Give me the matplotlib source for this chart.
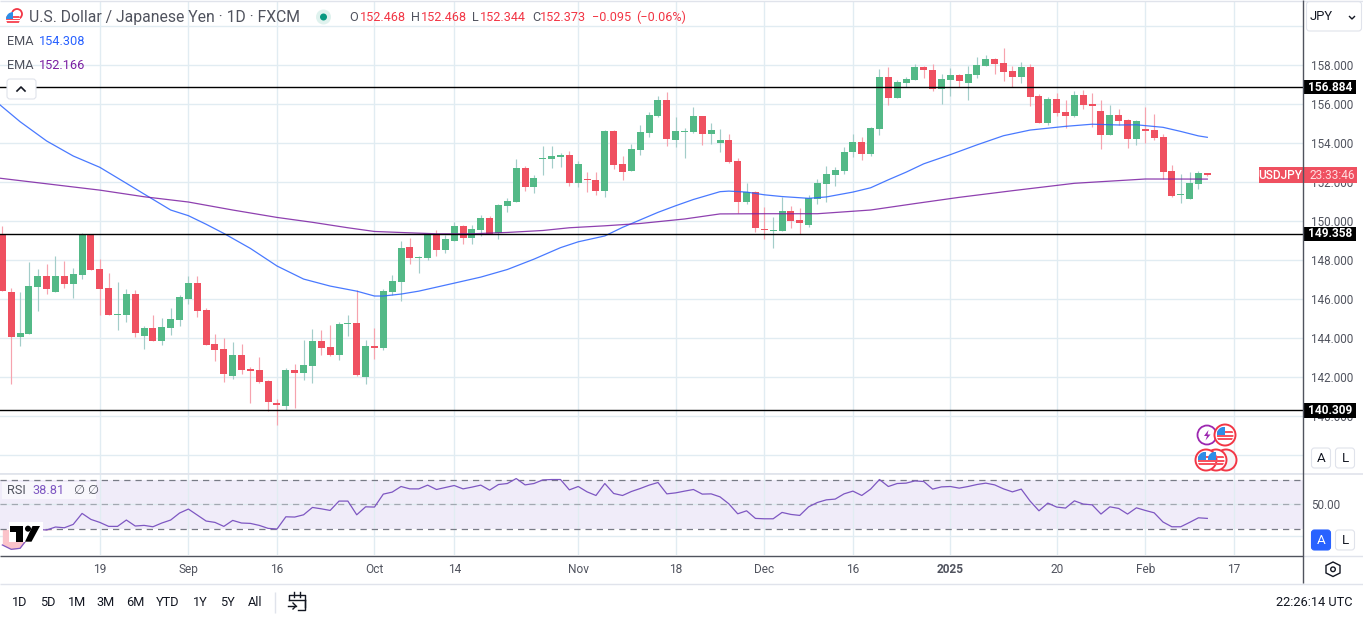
import matplotlib
matplotlib.use("Agg")
import matplotlib.pyplot as plt
import numpy as np
from matplotlib.patches import Circle, FancyBboxPatch, Polygon, Rectangle

plt.rcParams["font.family"] = ["Roboto", "DejaVu Sans"]

opens = [
    149.33, 146.37, 144.07, 144.22, 146.63, 147.20, 146.37, 147.20, 146.79, 147.25,
    149.30, 147.55, 146.58, 145.21, 145.20, 146.27, 144.12, 144.53, 143.86, 144.53,
    144.94, 146.02, 146.84, 145.45, 143.71, 143.45, 142.07, 143.14, 142.43, 142.37,
    141.81, 140.68, 140.53, 142.37, 142.22, 142.58, 143.86, 143.55, 143.14, 144.75,
    144.79, 142.02, 143.61, 143.50, 146.37, 146.88, 148.68, 148.11, 148.11, 149.29,
    148.52, 148.99, 149.76, 149.14, 149.55, 150.17, 149.40, 150.78, 150.99, 152.73,
    151.76, 153.19, 153.19, 153.29, 153.40, 151.96, 152.17, 152.11, 151.55, 154.63,
    152.94, 152.58, 153.65, 154.52, 155.40, 156.22, 154.17, 154.58, 154.58, 155.40,
    154.48, 154.02, 154.17, 153.09, 150.99, 151.50, 149.61, 149.51, 149.51, 150.53,
    150.07, 149.81, 151.15, 151.92, 152.38, 152.58, 153.56, 154.07, 153.45, 154.74,
    157.40, 156.33, 157.09, 157.25, 157.92, 157.76, 156.79, 157.25, 157.51, 157.09,
    157.51, 157.97, 158.33, 158.12, 157.71, 157.40, 157.92, 156.43, 155.04, 156.27,
    155.61, 155.40, 156.48, 156.02, 155.66, 154.43, 155.45, 155.20, 154.22, 154.74,
    154.68, 154.33, 152.58, 151.35, 151.15, 151.92, 152.468,
]
highs = [
    149.76, 146.56, 146.37, 147.91, 147.55, 147.81, 148.22, 147.96, 147.61, 149.40,
    149.33, 148.07, 147.35, 146.89, 146.53, 146.48, 144.63, 145.20, 145.04, 145.55,
    146.22, 147.20, 147.20, 145.55, 144.22, 144.02, 143.81, 143.71, 142.53, 143.04,
    141.86, 140.89, 142.48, 142.68, 143.91, 144.48, 144.43, 144.68, 144.84, 145.20,
    146.48, 143.91, 144.53, 146.53, 147.24, 148.99, 149.14, 148.22, 149.35, 149.55,
    149.29, 149.96, 149.81, 149.81, 150.32, 150.27, 150.88, 151.19, 153.19, 152.83,
    152.37, 153.86, 153.86, 153.50, 153.60, 153.09, 152.53, 152.53, 154.68, 154.68,
    153.35, 153.96, 154.94, 155.60, 156.42, 156.63, 155.35, 154.78, 155.86, 155.40,
    155.04, 154.74, 154.48, 153.25, 151.97, 151.56, 150.74, 150.22, 151.25, 150.79,
    150.68, 151.35, 152.17, 152.84, 152.79, 153.81, 154.48, 154.33, 154.84, 157.81,
    157.92, 157.25, 157.40, 158.07, 157.97, 158.07, 157.56, 157.86, 157.56, 157.97,
    158.43, 158.53, 158.38, 158.89, 157.97, 158.17, 158.07, 156.53, 156.38, 156.58,
    156.22, 156.68, 156.74, 156.58, 156.22, 155.97, 155.76, 155.25, 155.20, 155.86,
    155.50, 154.48, 152.89, 152.43, 152.53, 152.58, 152.468,
]
lows = [
    146.43, 141.66, 143.61, 144.22, 145.40, 146.27, 146.37, 146.58, 146.07, 147.04,
    147.50, 145.20, 145.20, 144.43, 144.84, 144.07, 143.45, 143.86, 143.66, 144.17,
    144.63, 145.76, 145.09, 143.66, 142.84, 141.76, 141.91, 142.17, 140.68, 141.71,
    140.27, 139.55, 140.32, 140.43, 141.86, 141.71, 143.14, 143.09, 142.89, 144.12,
    142.07, 141.66, 142.94, 143.40, 146.22, 145.91, 147.81, 147.35, 148.01, 148.22,
    148.37, 148.99, 148.83, 148.83, 149.24, 149.35, 149.09, 150.47, 150.99, 151.55,
    151.45, 152.37, 152.73, 152.78, 151.81, 151.76, 151.50, 151.35, 151.24, 152.68,
    152.11, 152.58, 153.40, 154.32, 155.35, 153.86, 153.81, 153.24, 154.53, 153.92,
    153.97, 153.56, 152.99, 150.43, 150.89, 149.45, 149.09, 148.63, 149.51, 149.66,
    149.35, 149.71, 150.89, 150.99, 151.81, 152.43, 153.30, 153.15, 153.35, 154.43,
    155.97, 156.33, 156.89, 157.25, 157.35, 156.68, 156.02, 156.43, 156.89, 156.22,
    157.35, 157.97, 157.56, 157.20, 156.89, 157.09, 155.92, 155.04, 154.94, 155.40,
    154.79, 155.35, 155.76, 154.84, 153.71, 154.43, 154.94, 153.76, 153.92, 154.02,
    154.17, 152.17, 151.25, 150.94, 151.15, 151.66, 152.344,
]
closes = [
    146.43, 144.07, 144.27, 146.68, 147.20, 146.53, 147.20, 146.79, 147.30, 149.30,
    147.50, 146.53, 145.20, 145.25, 146.27, 144.27, 144.53, 143.86, 144.58, 144.99,
    146.12, 146.84, 145.40, 143.66, 143.40, 142.17, 143.14, 142.37, 142.32, 141.76,
    140.73, 140.58, 142.37, 142.22, 142.63, 143.86, 143.50, 143.14, 144.73, 144.79,
    142.12, 143.61, 143.50, 146.43, 146.93, 148.63, 148.11, 148.16, 149.29, 148.52,
    149.09, 149.76, 149.14, 149.60, 150.17, 149.35, 150.83, 151.04, 152.73, 151.76,
    152.22, 153.24, 153.35, 153.40, 151.96, 152.94, 152.11, 151.55, 154.63, 152.88,
    152.53, 153.70, 154.58, 155.45, 156.22, 154.22, 154.63, 154.63, 155.40, 154.48,
    154.68, 154.17, 153.04, 150.99, 151.50, 149.66, 149.56, 149.56, 150.53, 150.02,
    149.92, 151.20, 151.97, 152.43, 152.63, 153.56, 154.07, 153.45, 154.79, 157.40,
    156.33, 157.15, 157.30, 157.92, 157.76, 156.79, 157.30, 157.51, 157.20, 157.56,
    158.02, 158.33, 158.07, 157.66, 157.40, 157.92, 156.38, 155.04, 156.27, 155.56,
    155.40, 156.48, 155.97, 155.92, 154.43, 155.45, 155.15, 154.22, 155.15, 154.63,
    154.27, 152.53, 151.30, 151.40, 151.97, 152.48, 152.373,
]

ema_blue_idx = [-1, 2, 5, 8, 11, 14, 16, 19, 21, 23, 25, 28, 31, 34, 37, 40, 42, 43, 45, 47, 51,
                54, 57, 60, 63, 65, 68, 70, 74, 76, 78, 81, 82, 84, 86, 88, 91, 93, 96, 98, 100, 102,
                104, 107, 110, 113, 116, 120, 123, 126, 128, 131, 133, 135, 136]
ema_blue = [156.25, 155.11, 154.12, 153.35, 152.77, 151.95, 151.40, 150.58, 150.29, 149.85,
            149.38, 148.61, 147.71, 147.04, 146.68, 146.42, 146.17, 146.17, 146.27, 146.42, 146.83,
            147.14, 147.53, 148.06, 148.65, 148.95, 149.25, 149.69, 150.46, 150.80, 151.12,
            151.52, 151.55, 151.50, 151.36, 151.27, 151.18, 151.25, 151.50, 151.72, 152.13, 152.52,
            152.95, 153.42, 153.92, 154.39, 154.68, 154.87, 154.98, 154.94, 154.95, 154.82,
            154.61, 154.38, 154.308]

ema_purple_idx = [-1, 11, 16, 21, 26, 31, 35, 39, 42, 46, 49, 53, 57, 61, 64, 68, 72, 77, 81,
                  86, 92, 98, 103, 108, 114, 121, 129, 136]
ema_purple = [152.25, 151.60, 151.26, 150.99, 150.58, 150.20, 149.95, 149.67, 149.48, 149.41,
              149.36, 149.36, 149.43, 149.53, 149.67, 149.77, 149.89, 150.12, 150.38,
              150.39, 150.39, 150.58, 150.91, 151.23, 151.57, 151.95, 152.17, 152.166]

rsi = [
    17.5, 14.0, 14.8, 24.0, 30.0, 29.5, 31.9, 31.3, 34.0, 42.8,
    38.0, 35.6, 32.4, 32.4, 37.5, 32.7, 33.2, 32.1, 35.1, 37.5,
    43.1, 46.3, 41.5, 36.7, 35.6, 32.4, 37.2, 35.1, 34.8, 33.2,
    30.8, 30.3, 40.1, 39.9, 41.7, 47.6, 46.5, 45.2, 52.7, 52.7,
    41.7, 48.1, 47.9, 58.3, 59.9, 64.4, 62.5, 62.5, 65.5, 62.0,
    63.6, 65.2, 62.5, 63.9, 65.5, 61.5, 66.0, 66.8, 70.8, 65.7,
    66.8, 69.7, 70.0, 70.0, 61.7, 64.4, 60.1, 57.2, 66.8, 58.8,
    57.2, 60.4, 62.8, 65.5, 67.6, 58.5, 59.3, 60.7, 62.0, 58.3,
    58.5, 56.1, 50.5, 42.5, 44.9, 38.8, 38.5, 38.5, 43.6, 42.0,
    41.2, 48.1, 51.6, 53.7, 54.3, 58.5, 60.7, 57.2, 62.3, 70.0,
    64.4, 66.8, 67.1, 68.9, 68.4, 62.3, 64.1, 64.4, 63.1, 64.4,
    66.0, 67.1, 65.7, 62.5, 60.1, 62.3, 52.7, 44.9, 51.1, 47.9,
    47.1, 52.9, 50.3, 49.7, 42.3, 48.1, 46.8, 42.3, 47.3, 45.2,
    43.3, 35.9, 32.1, 32.1, 35.6, 39.3, 38.81,
]

level_lines = [156.884, 149.358, 140.309]
price_ticks = [140, 142, 144, 146, 148, 150, 152, 154, 156, 158]
price_grid = [138, 160]
time_tick_idx = [11, 21, 31, 42, 51, 65, 76, 86, 96, 107, 119, 129, 139]
time_tick_labels = ["19", "Sep", "16", "Oct", "14", "Nov", "18", "Dec", "16", "2025", "20", "Feb", "17"]
ranges = ["1D", "5D", "1M", "3M", "6M", "YTD", "1Y", "5Y", "All"]
range_x = [20, 48, 77, 106, 135, 168, 200, 227, 255]

GREEN = "#53b987"
RED = "#ef5060"
GREEN_WICK = "#a3cdc9"
RED_WICK = "#f6a3ae"
GRID = "#e1ecf2"
TEXT = "#50535e"
LINE = "#50535e"
W, H = 1363, 621
XLIM = (-0.263, 146.8)

fig = plt.figure(figsize=(W / 100, H / 100), dpi=100, facecolor="white")
ax = fig.add_axes([0, (H - 473.3) / H, 1303 / W, 471.3 / H])
ax_rsi = fig.add_axes([0, (H - 555) / H, 1303 / W, 81.7 / H])

# price pane
idx = np.arange(len(opens))
o, h, l, c = map(np.array, (opens, highs, lows, closes))
up = c >= o
ax.vlines(idx[up], l[up], h[up], color=GREEN_WICK, lw=0.85, zorder=3)
ax.vlines(idx[~up], l[~up], h[~up], color=RED_WICK, lw=0.85, zorder=3)
ax.bar(idx, np.abs(c - o), bottom=np.minimum(o, c), width=0.79,
       color=np.where(up, GREEN, RED), linewidth=0, zorder=4)
ax.plot(ema_blue_idx, ema_blue, color="#2962ff", lw=0.9, alpha=0.85, zorder=5)
ax.plot(ema_purple_idx, ema_purple, color="#7b1fa2", lw=0.9, alpha=0.85, zorder=5)
for level in level_lines:
    ax.axhline(level, color="black", lw=1.0, zorder=6)

ax.set_xlim(*XLIM)
ax.set_ylim(137.08, 161.246)
ax.set_xticks(time_tick_idx)
ax.set_yticks(price_ticks)
ax.set_yticks(price_grid, minor=True)
ax.set_yticklabels([f"{p:.3f}" for p in price_ticks])
ax.yaxis.tick_right()
ax.tick_params(axis="both", which="both", length=0, labelbottom=False)
ax.tick_params(axis="y", labelsize=8.4, labelcolor=TEXT, pad=6)
ax.grid(True, which="both", color=GRID, lw=1.0, zorder=0)
for s in ax.spines.values():
    s.set_visible(False)

# tags on the price scale, height given in price units
for level in level_lines:
    ax.add_patch(Rectangle((1.0, level - 0.37), 53 / 1303, 0.74, transform=ax.get_yaxis_transform(),
                           facecolor="black", clip_on=False, zorder=8))
    ax.text(1 + 27 / 1303, level, f"{level:.3f}", transform=ax.get_yaxis_transform(), color="white",
            fontsize=8.6, fontweight="bold", ha="center", va="center", zorder=9)
last = closes[-1]
ax.add_patch(FancyBboxPatch((1 - 44 / 1303, last - 0.43), 98 / 1303, 0.86, transform=ax.get_yaxis_transform(),
                            boxstyle="square,pad=0", facecolor=RED, edgecolor="none", clip_on=False, zorder=8))
ax.text(1 - 22.5 / 1303, last, "USDJPY", transform=ax.get_yaxis_transform(), color="white",
        fontsize=8.6, fontweight="medium", ha="center", va="center", zorder=9)
ax.text(1 + 29 / 1303, last, "23:33:46", transform=ax.get_yaxis_transform(), color="#ffdde1",
        fontsize=8.6, ha="center", va="center", zorder=9)

# rsi pane
ax_rsi.axhspan(30, 70, color="#f0ecf9", lw=0, zorder=1)
ax_rsi.fill_between(idx, np.minimum(rsi, 30), 30, color="#fbc3ca", lw=0, zorder=2)
ax_rsi.plot(idx, rsi, color="#7e57c2", lw=0.9, zorder=5)
ax_rsi.axhline(70, color="#787b86", lw=0.9, dashes=(5, 4), zorder=3)
ax_rsi.axhline(30, color="#787b86", lw=0.9, dashes=(5, 4), zorder=3)
ax_rsi.axhline(50, color="#787b86", lw=0.9, alpha=0.6, dashes=(5, 4), zorder=3)
ax_rsi.set_xlim(*XLIM)
ax_rsi.set_ylim(9.44, 75)
ax_rsi.set_xticks(time_tick_idx)
ax_rsi.set_xticklabels(time_tick_labels, fontsize=8.6, color=TEXT)
ax_rsi.get_xticklabels()[9].set_fontweight("bold")
ax_rsi.set_yticks([25, 50, 75])
ax_rsi.set_yticklabels(["", "50.00", ""], fontsize=8.4, color=TEXT)
ax_rsi.yaxis.tick_right()
ax_rsi.tick_params(axis="both", length=0)
ax_rsi.tick_params(axis="x", pad=6)
ax_rsi.tick_params(axis="y", pad=6)
ax_rsi.grid(True, color=GRID, lw=1.0, zorder=0)
for s in ax_rsi.spines.values():
    s.set_visible(False)

# chrome drawn in pixel coordinates on top
ov = fig.add_axes([0, 0, 1, 1], zorder=10)
ov.set_xlim(0, W)
ov.set_ylim(H, 0)
ov.axis("off")
ov.patch.set_alpha(0)


def px_line(x0, y0, x1, y1, color, lw=1.0):
    ov.plot([x0, x1], [y0, y1], color=color, lw=lw, solid_capstyle="butt")


def round_box(x0, y0, x1, y1, face="white", edge="#e0e3eb", rad=3):
    ov.add_patch(FancyBboxPatch((x0 + rad, y0 + rad), x1 - x0 - 2 * rad, y1 - y0 - 2 * rad,
                                boxstyle=f"round,pad={rad},rounding_size={rad}",
                                facecolor=face, edgecolor=edge, lw=0.8))


def txt(x, y, s, color=TEXT, size=8.6, ha="left", **kw):
    ov.text(x, y, s, color=color, fontsize=size, ha=ha, va="center", **kw)


def flag(cx, cy, r, ring=True):
    if ring:
        ov.add_patch(Circle((cx, cy), r, facecolor="white", edgecolor="#f23645", lw=1.4, zorder=3))
        r = r - 2
    disc = Circle((cx, cy), r, facecolor="white", edgecolor="none", zorder=3)
    ov.add_patch(disc)
    for dy in [-0.45, -0.05, 0.35]:
        p = Rectangle((cx - r, cy + dy * r), 2 * r, 0.24 * r, facecolor="#f7525f", lw=0, zorder=4)
        ov.add_patch(p)
        p.set_clip_path(disc)
    p = Rectangle((cx - r, cy - r), 1.0 * r, 1.0 * r, facecolor="#2e8de6", lw=0, zorder=5)
    ov.add_patch(p)
    p.set_clip_path(disc)


# frame lines
px_line(0, 0.8, W, 0.8, "#e0e3eb", 1.0)
px_line(0, 473.5, W, 473.5, "#e0e3eb", 1.2)
px_line(0, 555.5, 1303, 555.5, LINE, 1.0)
px_line(1303, 555.5, W, 555.5, "#e0e3eb", 1.0)
px_line(0, 583.5, W, 583.5, "#e0e3eb", 1.0)
px_line(1302.5, 0, 1302.5, 583, LINE, 1.0)

# header
ov.add_patch(Circle((17, 14), 5, facecolor="white", edgecolor="#f23645", lw=1.3))
flag(13, 19, 7, ring=False)
txt(29, 17.5, "U.S. Dollar / Japanese Yen · 1D · FXCM", size=11.3)
ov.add_patch(Circle((323.5, 17), 7.5, facecolor="#dff2ee", edgecolor="none"))
ov.add_patch(Circle((323.5, 17), 3.5, facecolor="#089981", edgecolor="none"))
for x, s in [(349, "O"), (411, "H"), (472, "L"), (532, "C")]:
    txt(x, 17.5, s, size=9.1)
for x, s in [(360, "152.468"), (421, "152.468"), (480, "152.344"), (540, "152.373"),
             (592, "−0.095"), (636, "(−0.06%)")]:
    txt(x, 17.5, s, color="#f23645", size=9.1)
txt(7, 41.5, "EMA", size=9.2)
txt(39, 41.5, "154.308", color="#2962ff", size=9.2)
txt(7, 65.5, "EMA", size=9.2)
txt(39, 65.5, "152.166", color="#7b1fa2", size=9.2)
round_box(7, 79, 36, 99)
ov.plot([17, 21, 25], [91, 87, 91], color="#131722", lw=1.2)

# rsi legend
ov.add_patch(Rectangle((2, 482), 94, 17, facecolor="white", alpha=0.6, lw=0))
txt(7, 490.5, "RSI", size=9.2)
txt(32, 490.5, "38.81", color="#7e57c2", size=9.2)
txt(73, 490.5, "∅", size=9.2, family="DejaVu Sans")
txt(87, 490.5, "∅", size=9.2, family="DejaVu Sans")

# logo
ov.add_patch(Rectangle((9, 522), 34, 20, facecolor="white", lw=0))
ov.add_patch(Polygon([(9.5, 526), (22.5, 526), (22.5, 541.7), (15.6, 541.7), (15.6, 532), (9.5, 532)],
                     facecolor="black", lw=0))
ov.add_patch(Circle((28, 528.7), 3, facecolor="black", lw=0))
ov.add_patch(Polygon([(32.5, 526), (40, 526), (31.5, 541.7), (25, 541.7)], facecolor="black", lw=0))

# event icons
ov.add_patch(Circle((1207, 435), 9.5, facecolor="white", edgecolor="#9c27b0", lw=1.3))
ov.add_patch(Polygon([(1208.5, 430), (1204, 436), (1207, 436), (1205.5, 440.5), (1210.5, 434.5), (1207.5, 434.5)],
                     facecolor="#9c27b0", lw=0))
flag(1225, 435, 10.5)
ov.add_patch(Circle((1226, 460), 10.5, facecolor="#f5f5f7", edgecolor="#f23645", lw=1.4))
flag(1216, 460, 10.5)
flag(1206, 460, 10.5)

# price scale controls
round_box(1306.5, 1.5, 1361.5, 31)
txt(1310, 17, "JPY", color="#131722", size=9.4)
ov.plot([1349.5, 1352, 1354.5], [16.5, 19, 16.5], color="#131722", lw=1.0)
for x, y, s, face, col, edge in [(1321, 458, "A", "white", "#131722", "#e0e3eb"),
                                 (1345, 458, "L", "white", "#131722", "#e0e3eb"),
                                 (1321, 540, "A", "#2962ff", "white", "#2962ff"),
                                 (1345, 540, "L", "white", "#131722", "#e0e3eb")]:
    round_box(x - 9.5, y - 10, x + 9.5, y + 10, face=face, edge=edge)
    txt(x, y, s, color=col, size=9.6, ha="center")
ov.add_patch(Polygon([(1333, 562), (1340, 565.5), (1340, 573), (1333, 576.5), (1326, 573), (1326, 565.5)],
                     facecolor="white", edgecolor="#131722", lw=1.0))
ov.add_patch(Circle((1333, 569.3), 2.3, facecolor="white", edgecolor="#131722", lw=1.0))

# bottom toolbar
for x, s in zip(range_x, ranges):
    txt(x, 602.5, s, color="#131722", size=9.2, ha="center")
px_line(274.5, 592, 274.5, 613, "#e0e3eb", 1.0)
ov.plot([305, 305, 289, 289], [607, 595, 595, 600], color="#131722", lw=1.0)
ov.plot([289, 305], [600, 600], color="#131722", lw=1.0)
ov.plot([305, 305, 298], [600, 610, 610], color="#131722", lw=1.0)
ov.plot([294, 294], [592, 597], color="#131722", lw=1.0)
ov.plot([300, 300], [592, 597], color="#131722", lw=1.0)
ov.plot([288, 296], [606, 606], color="#131722", lw=1.0)
ov.plot([293, 296, 293], [603, 606, 609], color="#131722", lw=1.0)
txt(1353, 602.5, "22:26:14 UTC", color="#131722", size=9.2, ha="right")

fig.savefig("out.png", dpi=100)
